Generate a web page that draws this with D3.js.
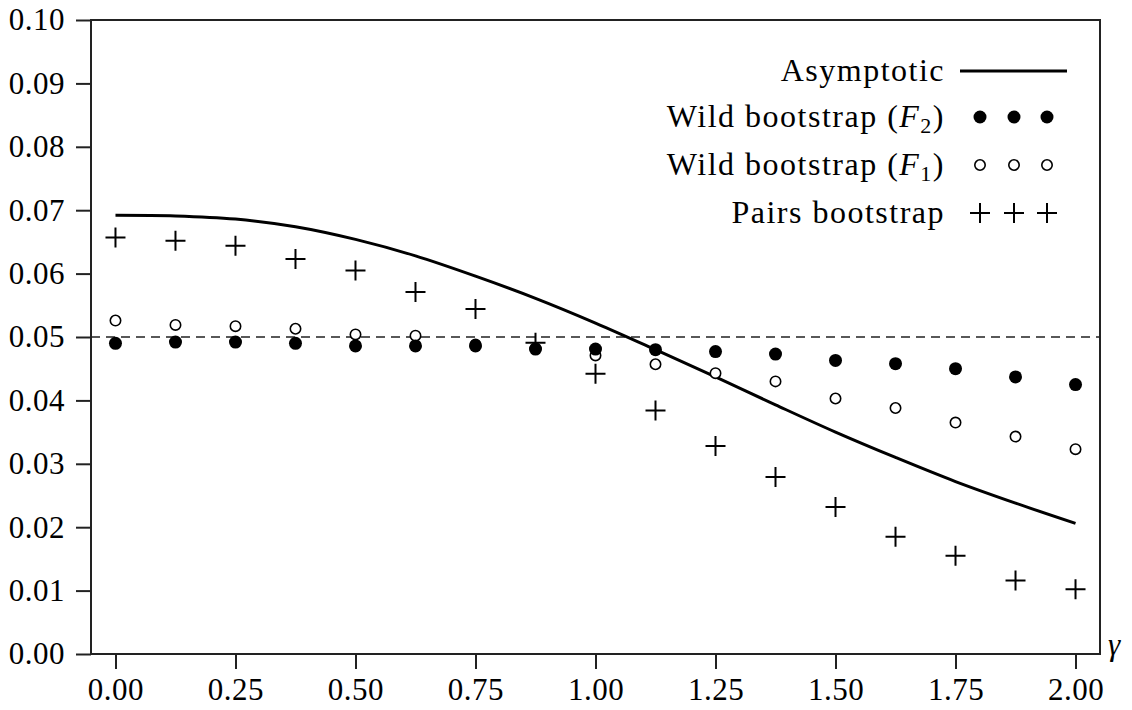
<!DOCTYPE html>
<html>
<head>
<meta charset="utf-8">
<script src="https://cdn.jsdelivr.net/npm/d3@7"></script>
<style>
  body { margin: 0; background: #fff; }
  svg { font-family: "Liberation Serif", "DejaVu Serif", serif; }
</style>
</head>
<body>
<svg id="chart" width="1132" height="710"></svg>
<script>
// gamma values (x)
const gammas = [0, 0.125, 0.25, 0.375, 0.5, 0.625, 0.75, 0.875, 1.0,
                1.125, 1.25, 1.375, 1.5, 1.625, 1.75, 1.875, 2.0];

// series
const asymptotic = [0.0692, 0.0691, 0.0686, 0.0674, 0.0654, 0.0628, 0.0596, 0.0561, 0.0522,
                    0.0480, 0.0437, 0.0393, 0.0350, 0.0310, 0.0272, 0.0238, 0.0206];
const wildF2 = [0.0490, 0.0492, 0.0492, 0.0490, 0.0486, 0.0486, 0.0486, 0.0481, 0.0481,
                0.0480, 0.0477, 0.0473, 0.0463, 0.0458, 0.0450, 0.0437, 0.0425];
const wildF1 = [0.0526, 0.0519, 0.0517, 0.0513, 0.0504, 0.0502, 0.0488, 0.0482, 0.0471,
                0.0457, 0.0443, 0.0430, 0.0403, 0.0388, 0.0365, 0.0343, 0.0323];
const pairs = [0.0657, 0.0652, 0.0644, 0.0623, 0.0605, 0.0571, 0.0544, 0.0491, 0.0442,
               0.0384, 0.0328, 0.0279, 0.0232, 0.0185, 0.0155, 0.0116, 0.0102];

const yTicks = [0, 0.01, 0.02, 0.03, 0.04, 0.05, 0.06, 0.07, 0.08, 0.09, 0.10];
const xTicks = [0, 0.25, 0.5, 0.75, 1.0, 1.25, 1.5, 1.75, 2.0];
const nominal = 0.05;

const margin = { top: 20, right: 32, bottom: 56, left: 91 };
const width = 1132 - margin.left - margin.right;
const height = 710 - margin.top - margin.bottom;

const svg = d3.select("#chart")
    .append("g")
    .attr("transform", "translate(" + margin.left + "," + margin.top + ")");

const x = d3.scaleLinear().domain([-0.051, 2.051]).range([0, width]);
const y = d3.scaleLinear().domain([0, 0.10]).range([height, 0]);

// axes
const yAxis = svg.append("g")
    .call(d3.axisLeft(y).tickValues(yTicks).tickFormat(d3.format(".2f"))
        .tickSize(15).tickPadding(11));
const xAxis = svg.append("g")
    .attr("transform", "translate(0," + height + ")")
    .call(d3.axisBottom(x).tickValues(xTicks).tickFormat(d3.format(".2f"))
        .tickSize(15).tickPadding(9));

[yAxis, xAxis].forEach(a => {
    a.select(".domain").remove();
    a.selectAll("line").attr("stroke", "#222").attr("stroke-width", 2);
    a.selectAll("text").attr("fill", "#000").style("font-size", "31px")
        .style("letter-spacing", "0.5px")
        .style("font-family", "'Liberation Serif', serif");
});

// box
svg.append("rect")
    .attr("x", 0).attr("y", 0)
    .attr("width", width).attr("height", height)
    .attr("fill", "none")
    .attr("stroke", "#222")
    .attr("stroke-width", 2);

// gamma label
svg.append("text")
    .attr("x", width + 8)
    .attr("y", height + 1)
    .style("font-size", "31px")
    .style("font-style", "italic")
    .text("γ");

// nominal level dashed line
svg.append("line")
    .attr("x1", 0).attr("x2", width)
    .attr("y1", y(nominal)).attr("y2", y(nominal))
    .attr("stroke", "#222")
    .attr("stroke-width", 1.6)
    .attr("stroke-dasharray", "9,6");

// asymptotic curve
const line = d3.line()
    .x((d, i) => x(gammas[i]))
    .y(d => y(d))
    .curve(d3.curveCatmullRom);

svg.append("path")
    .datum(asymptotic)
    .attr("fill", "none")
    .attr("stroke", "#000")
    .attr("stroke-width", 3)
    .attr("d", line);

// markers
function plus(g, cx, cy) {
    g.append("path")
        .attr("d", `M${cx - 10},${cy}H${cx + 10}M${cx},${cy - 10}V${cy + 10}`)
        .attr("stroke", "#000")
        .attr("stroke-width", 2)
        .attr("fill", "none");
}

svg.selectAll(".open")
    .data(wildF1)
    .enter()
    .append("circle")
    .attr("class", "open")
    .attr("cx", (d, i) => x(gammas[i]))
    .attr("cy", d => y(d))
    .attr("r", 5.2)
    .attr("fill", "#fff")
    .attr("stroke", "#000")
    .attr("stroke-width", 1.6);

svg.selectAll(".filled")
    .data(wildF2)
    .enter()
    .append("circle")
    .attr("class", "filled")
    .attr("cx", (d, i) => x(gammas[i]))
    .attr("cy", d => y(d))
    .attr("r", 6.5)
    .attr("fill", "#000");

const plusG = svg.append("g");
pairs.forEach((d, i) => plus(plusG, x(gammas[i]), y(d)));

// legend
const legend = d3.select("#chart").append("g");
const legendX = 945;
const rows = [
    { label: "Asymptotic", cy: 71 },
    { label: "Wild bootstrap", sub: "2", cy: 117 },
    { label: "Wild bootstrap", sub: "1", cy: 165 },
    { label: "Pairs bootstrap", cy: 213 }
];
const symX = [980, 1014, 1047];

rows.forEach((r, k) => {
    const t = legend.append("text")
        .attr("x", legendX)
        .attr("y", r.cy + 10)
        .attr("text-anchor", "end")
        .style("font-size", "32px")
        .style("letter-spacing", "1.5px");
    t.append("tspan").text(r.label + (r.sub ? " (" : ""));
    if (r.sub) {
        t.append("tspan").style("font-style", "italic").text("F");
        t.append("tspan").attr("dy", 6).style("font-size", "22px").text(r.sub);
        t.append("tspan").attr("dy", -6).text(")");
    }
    if (k === 0) {
        legend.append("line")
            .attr("x1", 960).attr("x2", 1067)
            .attr("y1", r.cy).attr("y2", r.cy)
            .attr("stroke", "#000").attr("stroke-width", 3);
    } else if (k === 1) {
        symX.forEach(sx => legend.append("circle")
            .attr("cx", sx).attr("cy", r.cy).attr("r", 6.5).attr("fill", "#000"));
    } else if (k === 2) {
        symX.forEach(sx => legend.append("circle")
            .attr("cx", sx).attr("cy", r.cy).attr("r", 5.2)
            .attr("fill", "#fff").attr("stroke", "#000").attr("stroke-width", 1.6));
    } else {
        symX.forEach(sx => plus(legend, sx, r.cy));
    }
});
</script>
</body>
</html>
